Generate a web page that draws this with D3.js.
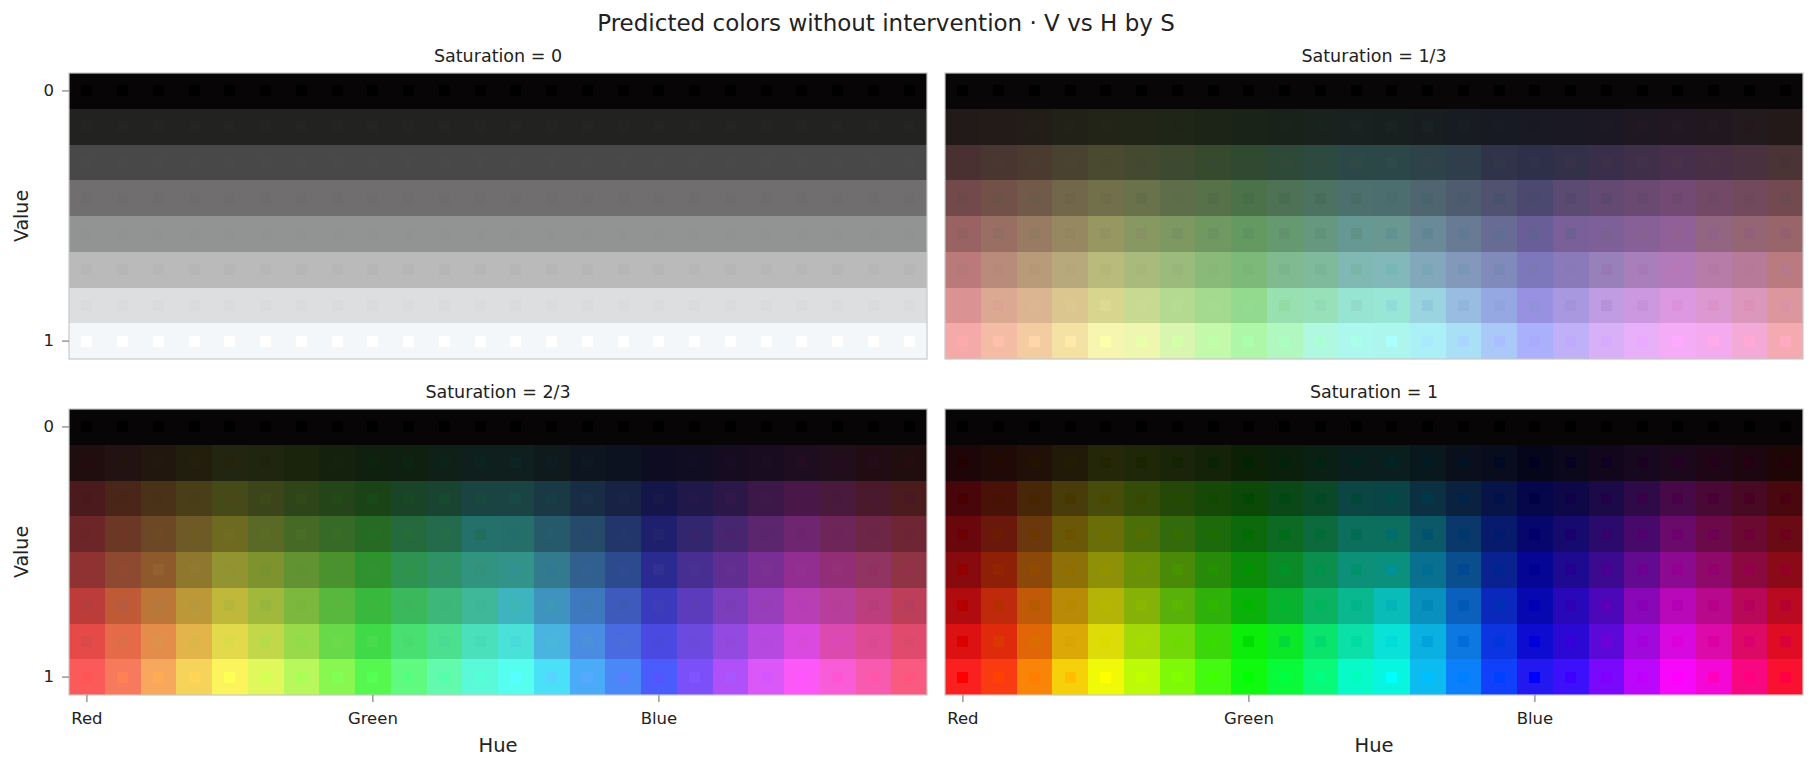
<!DOCTYPE html>
<html>
<head>
<meta charset="utf-8">
<script src="https://cdn.jsdelivr.net/npm/d3@7"></script>
<style>
  body { margin: 0; background: #ffffff; }
  text { font-family: "DejaVu Sans", sans-serif; fill: #222222; }
</style>
</head>
<body>
<svg id="chart"></svg>
<script>
// Categories
var hueSteps = [0, 1, 2, 3, 4, 5, 6, 7, 8, 9, 10, 11, 12, 13, 14, 15, 16, 17, 18, 19, 20, 21, 22, 23]; // hue = step / 24
var valueSteps = [0, 1, 2, 3, 4, 5, 6, 7]; // value = step / 7
var saturations = [0, 1 / 3, 2 / 3, 1];
var saturationLabels = ["0", "1/3", "2/3", "1"];

// Tick labels
var hueTickSteps = [0, 8, 16];
var hueTickLabels = ["Red", "Green", "Blue"];
var valueTickSteps = [0, 7];
var valueTickLabels = ["0", "1"];

// Predicted colours, one string per value row, 24 hues per row
var predS0 = [
  "070506 070506 070506 070506 070506 070506 070506 070506 070506 070506 070506 070506 070506 070506 070506 070506 070506 070506 070506 070506 070506 070506 070506 070506",
  "222321 222321 222321 222321 222321 222321 222321 222321 222321 222321 222321 222321 222321 222321 222321 222321 222321 222321 222321 222321 222321 222321 222321 222321",
  "484848 484848 484848 484848 484848 484848 484848 484848 484848 484848 484848 484848 484848 484848 484848 484848 484848 484848 484848 484848 484848 484848 484848 484848",
  "706e6e 706e6e 706e6e 706e6e 706e6e 706e6e 706e6e 706e6e 706e6e 706e6e 706e6e 706e6e 706e6e 706e6e 706e6e 706e6e 706e6e 706e6e 706e6e 706e6e 706e6e 706e6e 706e6e 706e6e",
  "919492 919492 919492 919492 919492 919492 919492 919492 919492 919492 919492 919492 919492 919492 919492 919492 919492 919492 919492 919492 919492 919492 919492 919492",
  "bababa bababa bababa bababa bababa bababa bababa bababa bababa bababa bababa bababa bababa bababa bababa bababa bababa bababa bababa bababa bababa bababa bababa bababa",
  "dddee0 dddee0 dddee0 dddee0 dddee0 dddee0 dddee0 dddee0 dddee0 dddee0 dddee0 dddee0 dddee0 dddee0 dddee0 dddee0 dddee0 dddee0 dddee0 dddee0 dddee0 dddee0 dddee0 dddee0",
  "f3f7fa f3f7fa f3f7fa f3f7fa f3f7fa f3f7fa f3f7fa f3f7fa f3f7fa f3f7fa f3f7fa f3f7fa f3f7fa f3f7fa f3f7fa f3f7fa f3f7fa f3f7fa f3f7fa f3f7fa f3f7fa f3f7fa f3f7fa f3f7fa"
];

var predS13 = [
  "080607 080607 080607 080607 080607 080607 080607 080607 080607 080607 080607 080607 080607 080607 080607 080607 080607 080607 080607 080607 080607 080607 080607 080607",
  "221a18 221b17 231d17 222117 222418 212518 1f2517 1b2417 1a2318 19221a 19221d 18211f 17201f 181d20 181b22 171a22 181923 1a1823 1c1823 1e1822 201722 21181f 221a1c 221918",
  "4a3131 4a3630 4a3a30 4a4230 4a4a30 434a30 3e4a30 364a2e 2f4a30 2d4a38 2d4a40 2c4748 2c4748 2d4349 2e3e4a 2f344a 2e304a 33304a 3a2f4a 3f2f48 452f4a 482f46 4a3140 4a3436",
  "724a4c 725248 725a4a 72674a 72704a 69724a 5f6e4a 577249 4c724a 4d7255 4d7262 4c706d 4d6e6f 4f6570 4f5b6f 505270 4c4870 5b4b72 644a72 6a4a70 724a74 724a68 734a5d 724a4f",
  "996263 996e63 997a62 968962 979762 889862 7e9862 709962 659962 659970 669880 669993 6a9890 6a8a98 687a94 686c94 6a5e98 7a6098 7e6098 886098 906098 926680 946674 98666a",
  "bb7a7a b98b7a b89c7a b7a97b b8bb7b a9bb7c 9abb7b 8aba7a 7dba7a 80ba90 80ba9c 80b8b4 82b8ba 84a8bb 8498bb 808abb 7c78bb 8a7aba 9880bb a87ebb b27ab8 b77ca8 b77a98 b97a80",
  "db9292 dba892 dbb492 dac68e d8d68e c8da92 b4da92 a4da90 94da8e 98e0b0 98e0b8 98e4d2 98e6d6 99d4df 98bde0 96a8e2 9890e0 a898e0 c09ce2 cc98e0 dc98e0 dc98d0 dc98bc dc969e",
  "f4aaa8 f4bca4 f4cca2 f4e2a4 f6f6b0 eef6b0 d8f6b0 c4f8aa aef6a8 b0f8c0 b0f8e0 acf8ee acf6ee aaf0f6 aae0f6 aac8f8 aab0fc c0b0f8 d8b0f8 e8b0f8 f4acf6 f4aaee f4aad6 f4aab0"
];

var predS23 = [
  "070506 070506 070506 070506 070506 070506 070506 070506 070506 070506 070506 070506 070506 070506 070506 070506 070506 070506 070506 070506 070506 070506 070506 070506",
  "200e0e 221312 22170f 221e0e 22250f 1f250f 1a240d 14220d 10200e 0f2010 0f2018 0f1f1e 0f1f1e 0e1a1c 0d1620 0d1220 0d0c20 110d20 150c20 1a0c20 1e0c20 200e1a 200c12 200e0e",
  "4a1a1c 4a2619 4a3219 4a3e18 464a19 3c4419 2e4419 244419 1a4418 1a4428 194432 194442 1a4444 193a44 182c44 182244 14164a 201848 2c1848 3c1848 4a1848 4a1a3c 4a1a2c 4a1c1e",
  "6c2628 6c3826 6c4826 6e5a26 6e6a20 5a6a26 466a26 366a26 266a24 246a3c 246a4c 24706a 266e6a 265a6a 264a6a 22366c 1e206e 32266e 46266e 5c266e 6e2670 6e2658 6e2646 6e2634",
  "8e3232 8e4a30 8e5a2c 8e782e 929432 7e922e 629232 4a922e 2e922e 2e9250 2e9266 309480 329488 347a8e 32608e 2c4a8e 2a2a90 482e90 602e90 782e92 922e92 922e76 923462 8e3444",
  "bc3c3a be5a36 bc7638 bc9838 c0b83a a0b83c 7cb83e 58b83e 38b83c 3cb85c 3eb878 3eb898 3eb4be 3e94be 3e78be 3e5abc 3a3abc 5c3cbc 7c3ebc 983ebc b83eb4 b83e9c bc3e7c bc3e58",
  "e64a48 e46a48 e48c4a e2b44a e2da4a c2d84a 98da4a 68da4a 40da48 48e070 4ae090 4ae0bc 4ae2d8 4ab4e0 4a8ce2 4a6ae2 4a4ae2 6c4ae0 924ae0 b64ae0 da4ae0 dc4ab0 de4a94 e04a6c",
  "fa5a5a f87a5c f8a85c f6d45c fcf45c e0f85c b8f85c 88f850 56f850 60fa80 64faae 5afad8 56fef0 4ae0f8 4aacf8 4a88f8 4a5cfc 7c50f8 b050f8 da58f8 fc58f8 f85cd6 f85ab0 f85a80"
];

var predS1 = [
  "070506 070506 070506 070506 070506 070506 070506 070506 070506 070506 070506 070506 070506 070506 070506 070506 070506 070506 070506 070506 070506 070506 070506 070506",
  "1e0608 1f0a08 201008 221a08 242708 1e2808 192408 142208 0c2008 0b200c 0b2015 0b1e1e 0b1e1e 09181c 09101c 080c1c 06061a 0c081c 11061c 16081e 1c081c 1e0616 1e0610 1e0606",
  "48060a 481208 482608 483c0a 484c0a 344c08 244808 164808 0c4808 0a4818 0a4828 0c4644 0a4444 0a3042 0a2240 081448 06064a 0e0848 1c0a48 2e0a48 460a48 480a34 480a22 48080e",
  "68080c 6a180c 6a380c 6a5808 6a6e08 4c6e08 326a0c 1c6a0c 0c6a0c 0c6a22 0c6a3c 0c6e5c 0c6e5c 0a5868 0a386a 081a6c 06066c 160a6e 2a0a6a 480a6a 6a0a6a 6a0a48 6a0a30 6a0a14",
  "860a0e 8e2008 8c4808 8e7008 8e9008 6a9008 4a8a08 288a0a 0c8a0a 0c8a28 0c8e4e 0c9078 0c907e 0a7090 0a4e8e 0a2290 060694 1e0a90 3c0a8e 620a90 8c0a90 8e0a68 8a0a40 8a0a18",
  "b00c10 c02a0c c05a08 b88a08 b4b408 86b208 5ab00a 30b00a 0cb00a 0ab030 0ab262 0ab890 0abcb8 0a90bc 0a60bc 0a28bc 0808b0 2808b8 4c08b8 8808b8 b808b8 b8088c b80858 b80a20",
  "dc1212 e02a0c e06608 dca808 dcdc08 a4d808 72d808 3ad80a 0cee0a 0ae828 0ae46c 0ae0a8 0ae2d8 0ab0e0 0c78e0 0c34e0 0e0cd0 2c08d4 5c08d8 a008dc d808e0 dc0aa8 dc0a64 e00c24",
  "fa2020 fa3a10 fa8408 f6d008 f0fa08 bcfa08 7efa08 44fa10 10fa10 08fa38 08fa78 08fac8 08f6e0 0cbcf0 0c80fa 1040fa 2418f0 3c10fa 7a08fa bc08fa f808fa f408d8 f80880 fa1030"
];

var predictedPanels = [predS0, predS13, predS23, predS1];

// Set up the SVG dimensions
var svgWidth = 1817;
var svgHeight = 771;
var panelWidth = 858;
var panelHeight = 286;
var panelLeft = [69, 945];
var panelTop = [73, 409];
var markerSize = 11;

var svg = d3.select("#chart")
  .attr("width", svgWidth)
  .attr("height", svgHeight);

// Colour of the true HSV swatch for a cell
function hsvColor(h, s, v) {
  var i = Math.floor(h * 6);
  var f = h * 6 - i;
  var p = v * (1 - s), q = v * (1 - f * s), t = v * (1 - (1 - f) * s);
  var rgb = [[v, t, p], [q, v, p], [p, v, t], [p, q, v], [t, p, v], [v, p, q]][i % 6];
  return d3.rgb(rgb[0] * 255, rgb[1] * 255, rgb[2] * 255).formatHex();
}

// Scales
var xScale = d3.scaleBand()
  .domain(hueSteps)
  .range([0, panelWidth]);

var yScale = d3.scaleBand()
  .domain(valueSteps)
  .range([0, panelHeight]);

// Title
svg.append("text")
  .attr("x", 886)
  .attr("y", 31)
  .attr("text-anchor", "middle")
  .style("font-size", "23px")
  .text("Predicted colors without intervention \u00b7 V vs H by S");

saturations.forEach(function (sat, si) {
  var col = si % 2;
  var row = Math.floor(si / 2);
  var rows = predictedPanels[si].map(function (r) { return r.split(" "); });

  var cells = [];
  valueSteps.forEach(function (v) {
    hueSteps.forEach(function (h) {
      cells.push({ h: h, v: v, pred: "#" + rows[v][h], truth: hsvColor(h / 24, sat, v / 7) });
    });
  });

  var g = svg.append("g")
    .attr("transform", "translate(" + panelLeft[col] + "," + panelTop[row] + ")");

  // Predicted colour cells
  g.selectAll(".cell")
    .data(cells)
    .enter()
    .append("rect")
    .attr("class", "cell")
    .attr("x", function (d) { return xScale(d.h); })
    .attr("y", function (d) { return yScale(d.v); })
    .attr("width", xScale.bandwidth())
    .attr("height", yScale.bandwidth())
    .attr("shape-rendering", "crispEdges")
    .attr("fill", function (d) { return d.pred; });

  // True colour markers
  g.selectAll(".marker")
    .data(cells)
    .enter()
    .append("rect")
    .attr("class", "marker")
    .attr("x", function (d) { return xScale(d.h) + (xScale.bandwidth() - markerSize) / 2; })
    .attr("y", function (d) { return yScale(d.v) + (yScale.bandwidth() - markerSize) / 2; })
    .attr("width", markerSize)
    .attr("height", markerSize)
    .attr("shape-rendering", "crispEdges")
    .attr("fill", function (d) { return d.truth; });

  // Frame
  g.append("rect")
    .attr("x", 0)
    .attr("y", 0)
    .attr("width", panelWidth)
    .attr("height", panelHeight)
    .attr("fill", "none")
    .attr("stroke", "#c8c8c8")
    .attr("stroke-width", 1.2);

  // Panel title
  g.append("text")
    .attr("x", panelWidth / 2)
    .attr("y", -11.5)
    .attr("text-anchor", "middle")
    .style("font-size", "17.5px")
    .text("Saturation = " + saturationLabels[si]);

  // Y axis on the left column
  if (col === 0) {
    var yAxis = g.append("g")
      .attr("class", "axis")
      .call(d3.axisLeft(yScale)
        .tickValues(valueTickSteps)
        .tickSize(7)
        .tickPadding(8)
        .tickFormat(function (d, i) { return valueTickLabels[i]; }));
    yAxis.select(".domain").remove();
    yAxis.selectAll("line").attr("stroke", "#999999").attr("stroke-width", 1.5);
    yAxis.selectAll("text").style("font-size", "16.5px").attr("fill", "#222222");

    g.append("text")
      .attr("transform", "translate(" + (28 - panelLeft[0]) + "," + panelHeight / 2 + ") rotate(-90)")
      .attr("text-anchor", "middle")
      .style("font-size", "19px")
      .text("Value");
  }

  // X axis on the bottom row
  if (row === 1) {
    var xAxis = g.append("g")
      .attr("class", "axis")
      .attr("transform", "translate(0," + panelHeight + ")")
      .call(d3.axisBottom(xScale)
        .tickValues(hueTickSteps)
        .tickSize(7)
        .tickPadding(10)
        .tickFormat(function (d, i) { return hueTickLabels[i]; }));
    xAxis.select(".domain").remove();
    xAxis.selectAll("line").attr("stroke", "#999999").attr("stroke-width", 1.5);
    xAxis.selectAll("text").style("font-size", "16.5px").attr("fill", "#222222");

    g.append("text")
      .attr("x", panelWidth / 2)
      .attr("y", 752 - panelTop[1])
      .attr("text-anchor", "middle")
      .style("font-size", "19.5px")
      .text("Hue");
  }
});
</script>
</body>
</html>
